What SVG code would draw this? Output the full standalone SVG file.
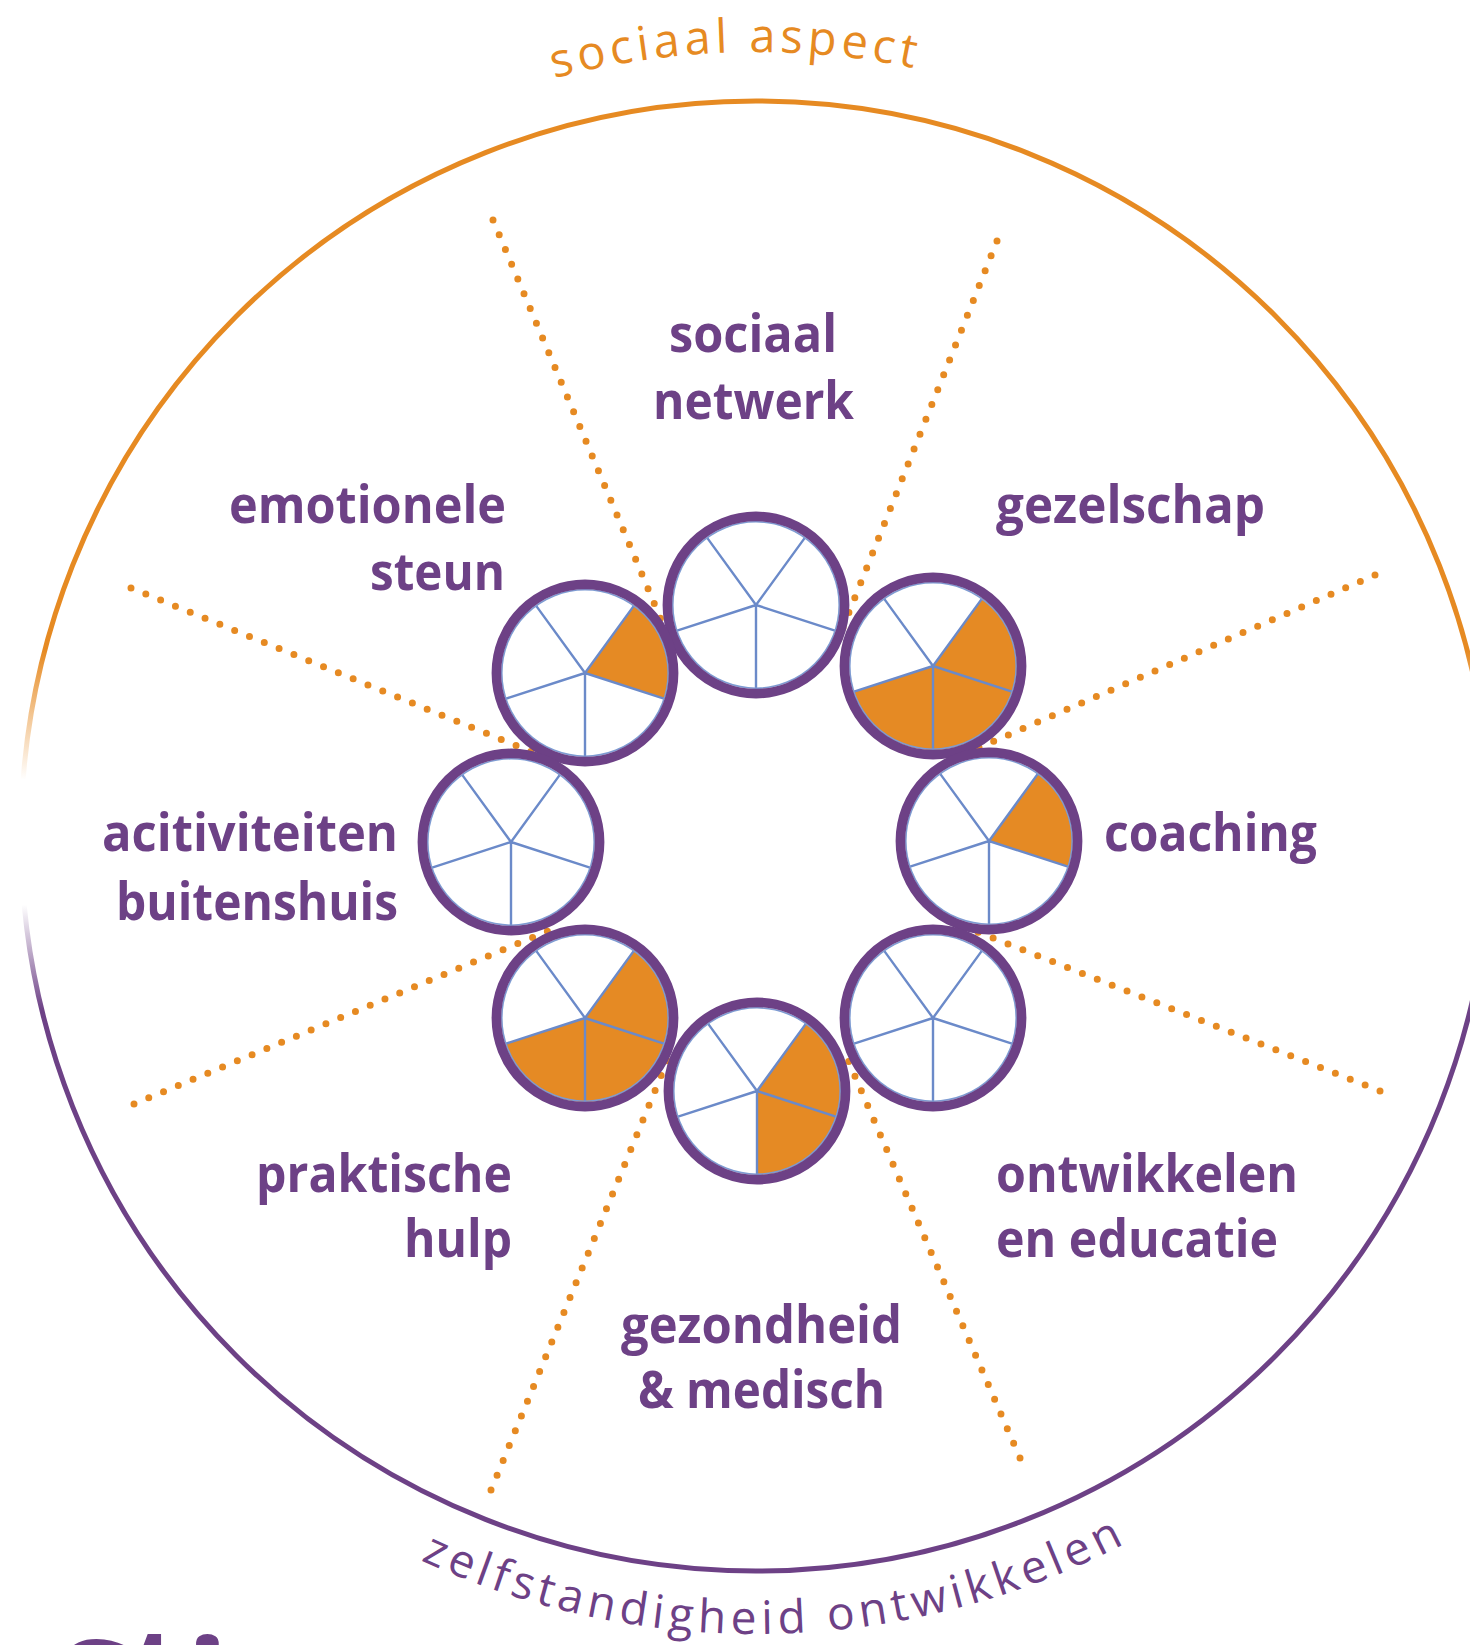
<svg xmlns="http://www.w3.org/2000/svg" xmlns:xlink="http://www.w3.org/1999/xlink" width="1470" height="1645" viewBox="0 0 1470 1645">
  <style>
    .lbl { font-family: "Open Sans", "Noto Sans", sans-serif; font-weight: 700; font-size: 52px; fill: #6D4186; }
    .arcO { font-family: "Open Sans", "Noto Sans", sans-serif; font-weight: 400; font-size: 47px; fill: #E68A22; letter-spacing: 4.5px; }
    .arcP { font-family: "Open Sans", "Noto Sans", sans-serif; font-weight: 400; font-size: 46px; fill: #6D4186; letter-spacing: 5.1px; }
    .big { font-family: "Open Sans", "Noto Sans", sans-serif; font-weight: 700; font-size: 140px; fill: #6D4186; }
    .ray { fill: none; stroke: #E68A22; stroke-width: 7; stroke-linecap: round; stroke-dasharray: 0 16; }
    .bg { fill: #FFFFFF; }
    .sec { fill: #E58A24; }
    .spk { fill: none; stroke: #6B8AC9; stroke-width: 2.4; }
    .inr { fill: none; stroke: #7E9BD2; stroke-width: 1.6; }
    .rim { fill: none; stroke: #6D4186; stroke-width: 9.6; }
  </style>
  <defs>
    <linearGradient id="ringGrad" gradientUnits="userSpaceOnUse" x1="0" y1="0" x2="0" y2="1645">
      <stop offset="0" stop-color="#E68A22" stop-opacity="1"/>
      <stop offset="0.395" stop-color="#E68A22" stop-opacity="1"/>
      <stop offset="0.474" stop-color="#E68A22" stop-opacity="0"/>
      <stop offset="0.550" stop-color="#6D4186" stop-opacity="0"/>
      <stop offset="0.614" stop-color="#6D4186" stop-opacity="1"/>
      <stop offset="1" stop-color="#6D4186" stop-opacity="1"/>
    </linearGradient>
    <path id="topArc" d="M252.1,235.4 A784,784 0 0,1 1227.8,209.9"/>
    <path id="botArc" d="M298.3,1489.7 A798,798 0 0,0 1247.3,1464.8"/>
    <path id="sB" class="sec" d="M0,0 L49.37,-67.96 A84,84 0 0,1 79.89,25.96 Z"/>
    <path id="sC" class="sec" d="M0,0 L79.89,25.96 A84,84 0 0,1 0,84 Z"/>
    <path id="sD" class="sec" d="M0,0 L0,84 A84,84 0 0,1 -79.89,25.96 Z"/>
    <circle id="pieBg" class="bg" r="88"/>
    <g id="pieFrame">
      <path class="spk" d="M0,0 L48.79,-67.15 M0,0 L78.94,25.65 M0,0 L0,83 M0,0 L-78.94,25.65 M0,0 L-48.79,-67.15"/>
      <circle class="inr" r="83.2"/>
      <circle class="rim" r="88.6"/>
    </g>
  </defs>

  <rect width="1470" height="1645" fill="#FFFFFF"/>

  <g id="outer-ring">
    <circle cx="756" cy="836" r="735" fill="none" stroke="url(#ringGrad)" stroke-width="5"/>
  </g>

  <g id="arc-labels">
    <text class="arcO"><textPath href="#topArc" startOffset="50%" text-anchor="middle">sociaal aspect</textPath></text>
    <text class="arcP"><textPath href="#botArc" startOffset="50%" text-anchor="middle">zelfstandigheid ontwikkelen</textPath></text>
  </g>

  <g id="connectors">
    <line class="ray" x1="493" y1="220" x2="669.8" y2="640.5"/>
    <line class="ray" x1="997" y1="241" x2="838.4" y2="638.9"/>
    <line class="ray" x1="131" y1="588" x2="550.1" y2="759.4"/>
    <line class="ray" x1="1375" y1="575" x2="959.5" y2="756.2"/>
    <line class="ray" x1="134" y1="1104" x2="552.2" y2="929.2"/>
    <line class="ray" x1="1380" y1="1091" x2="962.5" y2="926.0"/>
    <line class="ray" x1="491" y1="1490" x2="671.5" y2="1050.4"/>
    <line class="ray" x1="1020" y1="1458" x2="843.6" y2="1049.8"/>
  </g>

  <g id="pie-sociaal-netwerk" transform="translate(756,605)">
    <use href="#pieBg"/>
    <use href="#pieFrame"/>
  </g>
  <g id="pie-emotionele-steun" transform="translate(585,673)">
    <use href="#pieBg"/>
    <use href="#sB"/>
    <use href="#pieFrame"/>
  </g>
  <g id="pie-gezelschap" transform="translate(933,666)">
    <use href="#pieBg"/>
    <use href="#sB"/>
    <use href="#sC"/>
    <use href="#sD"/>
    <use href="#pieFrame"/>
  </g>
  <g id="pie-activiteiten" transform="translate(511,842)">
    <use href="#pieBg"/>
    <use href="#pieFrame"/>
  </g>
  <g id="pie-coaching" transform="translate(989,841)">
    <use href="#pieBg"/>
    <use href="#sB"/>
    <use href="#pieFrame"/>
  </g>
  <g id="pie-praktische-hulp" transform="translate(585,1018)">
    <use href="#pieBg"/>
    <use href="#sB"/>
    <use href="#sC"/>
    <use href="#sD"/>
    <use href="#pieFrame"/>
  </g>
  <g id="pie-ontwikkelen" transform="translate(933,1018)">
    <use href="#pieBg"/>
    <use href="#pieFrame"/>
  </g>
  <g id="pie-gezondheid" transform="translate(757,1091)">
    <use href="#pieBg"/>
    <use href="#sB"/>
    <use href="#sC"/>
    <use href="#pieFrame"/>
  </g>

  <g id="labels">
    <g id="label-sociaal-netwerk">
      <text class="lbl" x="669" y="352" textLength="168" lengthAdjust="spacingAndGlyphs">sociaal</text>
      <text class="lbl" x="653" y="419" textLength="201" lengthAdjust="spacingAndGlyphs">netwerk</text>
    </g>
    <g id="label-emotionele-steun">
      <text class="lbl" x="229" y="523" textLength="277" lengthAdjust="spacingAndGlyphs">emotionele</text>
      <text class="lbl" x="370" y="590" textLength="135" lengthAdjust="spacingAndGlyphs">steun</text>
    </g>
    <g id="label-gezelschap">
      <text class="lbl" x="996" y="523" textLength="269" lengthAdjust="spacingAndGlyphs">gezelschap</text>
    </g>
    <g id="label-activiteiten">
      <text class="lbl" x="102" y="851" textLength="296" lengthAdjust="spacingAndGlyphs">acitiviteiten</text>
      <text class="lbl" x="116" y="920" textLength="282" lengthAdjust="spacingAndGlyphs">buitenshuis</text>
    </g>
    <g id="label-coaching">
      <text class="lbl" x="1104" y="851" textLength="213" lengthAdjust="spacingAndGlyphs">coaching</text>
    </g>
    <g id="label-praktische-hulp">
      <text class="lbl" x="256" y="1192" textLength="256" lengthAdjust="spacingAndGlyphs">praktische</text>
      <text class="lbl" x="404" y="1257" textLength="108" lengthAdjust="spacingAndGlyphs">hulp</text>
    </g>
    <g id="label-ontwikkelen">
      <text class="lbl" x="996" y="1192" textLength="302" lengthAdjust="spacingAndGlyphs">ontwikkelen</text>
      <text class="lbl" x="996" y="1257" textLength="282" lengthAdjust="spacingAndGlyphs">en educatie</text>
    </g>
    <g id="label-gezondheid">
      <text class="lbl" x="621" y="1343" textLength="281" lengthAdjust="spacingAndGlyphs">gezondheid</text>
      <text class="lbl" x="638" y="1408" textLength="247" lengthAdjust="spacingAndGlyphs">&amp; medisch</text>
    </g>
  </g>

  <g id="cut-heading">
    <text class="big"><tspan x="55" y="1741">S</tspan><tspan x="127" y="1727">t</tspan><tspan x="186" y="1741">i</tspan></text>
  </g>
</svg>
